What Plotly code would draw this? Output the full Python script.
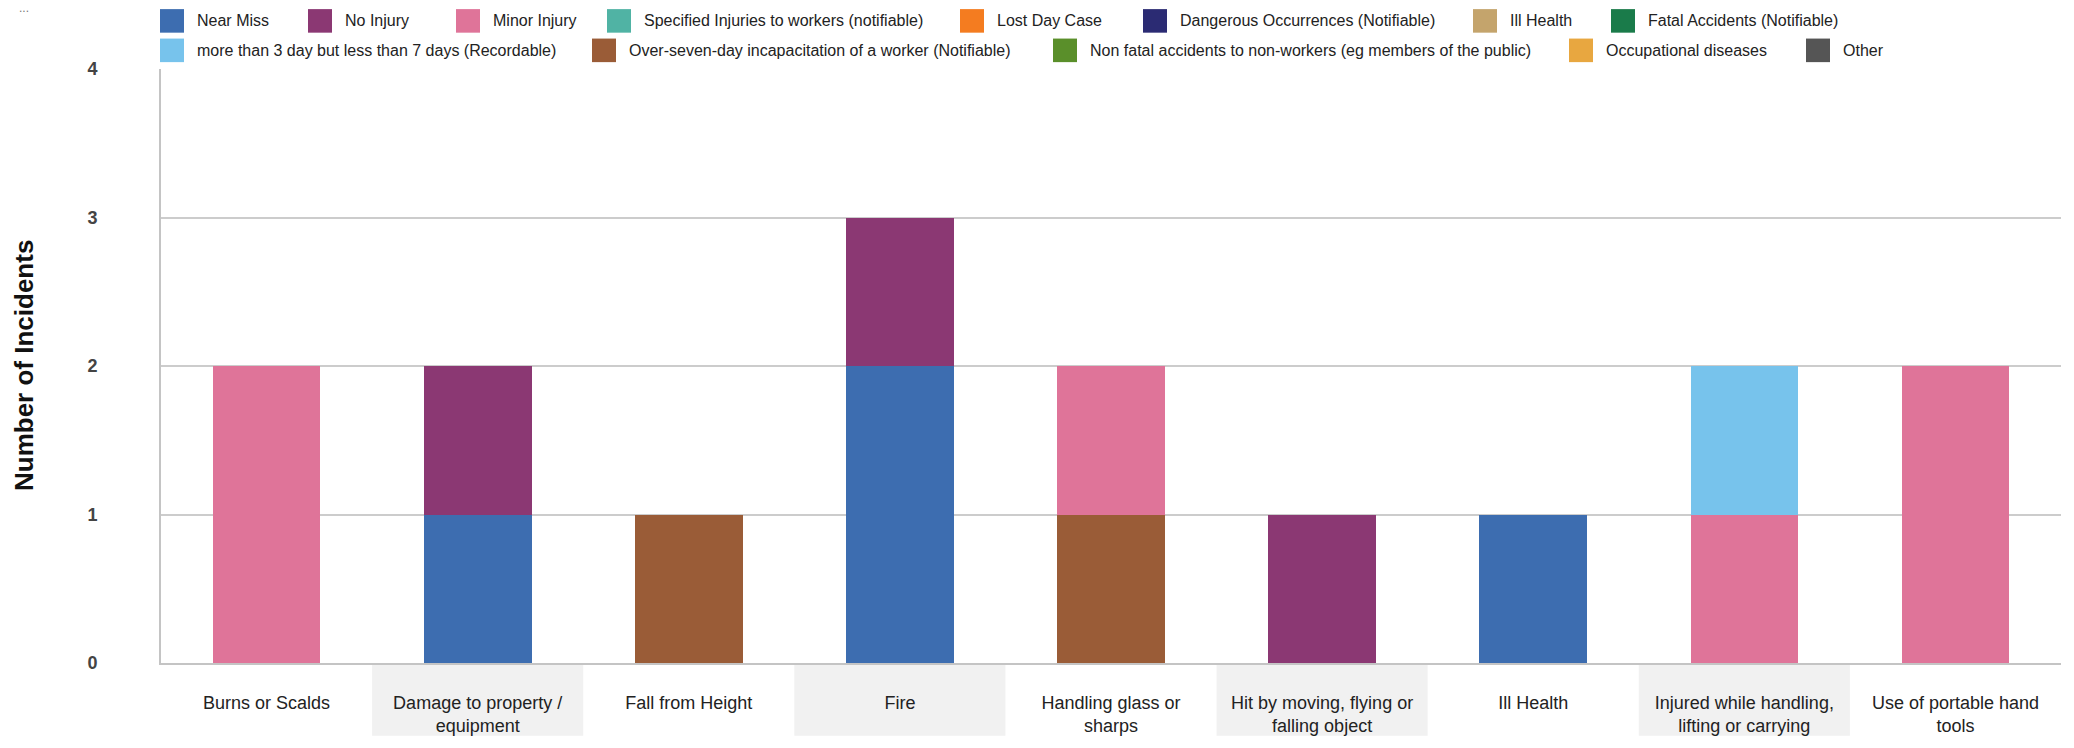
import plotly.graph_objects as go

# ---------------- data ----------------
categories = [
    "Burns or Scalds",
    "Damage to property /<br>equipment",
    "Fall from Height",
    "Fire",
    "Handling glass or<br>sharps",
    "Hit by moving, flying or<br>falling object",
    "Ill Health",
    "Injured while handling,<br>lifting or carrying",
    "Use of portable hand<br>tools",
]

series_names = [
    "Near Miss", "No Injury", "Minor Injury", "Specified Injuries to workers (notifiable)",
    "Lost Day Case", "Dangerous Occurrences (Notifiable)", "Ill Health", "Fatal Accidents (Notifiable)",
    "more than 3 day but less than 7 days (Recordable)", "Over-seven-day incapacitation of a worker (Notifiable)",
    "Non fatal accidents to non-workers (eg members of the public)", "Occupational diseases", "Other",
]
series_colors = [
    "#3d6db0", "#8b3873", "#df7499", "#50b3a4",
    "#f47c20", "#2b2b73", "#c4a46c", "#1a7b4a",
    "#77c3ec", "#9a5c37", "#5a8f2a", "#e8a740", "#555555",
]

near_miss      = [0, 1, 0, 2, 0, 0, 1, 0, 0]
no_injury      = [0, 1, 0, 1, 0, 1, 0, 0, 0]
minor_injury   = [2, 0, 0, 0, 1, 0, 0, 1, 2]
specified      = [0, 0, 0, 0, 0, 0, 0, 0, 0]
lost_day       = [0, 0, 0, 0, 0, 0, 0, 0, 0]
dangerous      = [0, 0, 0, 0, 0, 0, 0, 0, 0]
ill_health     = [0, 0, 0, 0, 0, 0, 0, 0, 0]
fatal          = [0, 0, 0, 0, 0, 0, 0, 0, 0]
three_to_seven = [0, 0, 0, 0, 0, 0, 0, 1, 0]
over_seven     = [0, 0, 1, 0, 1, 0, 0, 0, 0]
non_fatal      = [0, 0, 0, 0, 0, 0, 0, 0, 0]
occupational   = [0, 0, 0, 0, 0, 0, 0, 0, 0]
other          = [0, 0, 0, 0, 0, 0, 0, 0, 0]

series_values = [near_miss, no_injury, minor_injury, specified, lost_day, dangerous,
                 ill_health, fatal, three_to_seven, over_seven, non_fatal, occupational, other]

y_ticks = [0, 1, 2, 3, 4]

# stacking order (bottom to top) as seen in the chart
stack_order = [0, 9, 1, 2, 8, 3, 4, 5, 6, 7, 10, 11, 12]

# ---------------- layout geometry ----------------
W, H = 2074, 748
L, R, T, B = 161, 13, 69, 74
PW, PH = W - L - R, H - T - B

def px(x):
    return (x - L) / PW

def py(y):
    return (H - B - y) / PH

FONT = "Liberation Sans, Arial, sans-serif"

fig = go.Figure()
xs = list(range(len(categories)))
for idx in stack_order:
    fig.add_trace(go.Bar(
        x=xs, y=series_values[idx], name=series_names[idx],
        marker=dict(color=series_colors[idx], line=dict(width=0)),
        showlegend=False,
    ))

shapes = []
annotations = []

# alternating grey bands behind category labels
n = len(categories)
for i in range(n):
    if i % 2 == 1:
        shapes.append(dict(type="rect", xref="paper", yref="paper",
                           x0=i / n, x1=(i + 1) / n, y0=py(H), y1=py(H - B + 2),
                           fillcolor="#f1f1f1", line=dict(width=0), layer="below"))

# manual legend (two rows)
legend_rows = [
    [(0, 160), (1, 308), (2, 456), (3, 607), (4, 960), (5, 1143), (6, 1473), (7, 1611)],
    [(8, 160), (9, 592), (10, 1053), (11, 1569), (12, 1806)],
]
row_centers = [20, 50]
sw = 24
for row, yc in zip(legend_rows, row_centers):
    for idx, x0 in row:
        shapes.append(dict(type="rect", xref="paper", yref="paper",
                           x0=px(x0), x1=px(x0 + sw), y0=py(yc + sw / 2), y1=py(yc - sw / 2),
                           fillcolor=series_colors[idx], line=dict(width=0)))
        annotations.append(dict(xref="paper", yref="paper", x=px(x0 + 35), y=py(yc),
                                xanchor="left", yanchor="middle", showarrow=False,
                                text=series_names[idx],
                                font=dict(family=FONT, size=16, color="#222222")))

# y axis title
annotations.append(dict(xref="paper", yref="paper", x=px(24), y=0.5, xanchor="center",
                        yanchor="middle", showarrow=False, textangle=-90,
                        text="Number of Incidents",
                        font=dict(family=FONT, size=26, color="#111111", weight="bold")))
# small ellipsis top-left
annotations.append(dict(xref="paper", yref="paper", x=px(24), y=py(7), xanchor="center",
                        yanchor="middle", showarrow=False, text="...",
                        font=dict(family=FONT, size=12, color="#777777")))

fig.update_layout(
    width=W, height=H,
    margin=dict(l=L, r=R, t=T, b=B, pad=0),
    paper_bgcolor="white", plot_bgcolor="white",
    barmode="stack", bargap=0.49,
    font=dict(family=FONT, color="#222222"),
    shapes=shapes, annotations=annotations,
    showlegend=False,
)
fig.update_xaxes(
    tickvals=xs, ticktext=categories, range=[-0.5, n - 0.5],
    showgrid=False, showline=True, linecolor="#c4c4c4", linewidth=2,
    ticks="", ticklabelstandoff=22,
    tickfont=dict(family=FONT, size=18, color="#222222"),
)
fig.update_yaxes(
    range=[0, 4], tickvals=y_ticks, showgrid=True, gridcolor="#cccccc", gridwidth=2,
    showline=True, linecolor="#c4c4c4", linewidth=2, zeroline=False,
    ticks="", ticklabelstandoff=58,
    tickfont=dict(family=FONT, size=18, color="#444444", weight="bold"),
)

fig.write_html("out.html")
